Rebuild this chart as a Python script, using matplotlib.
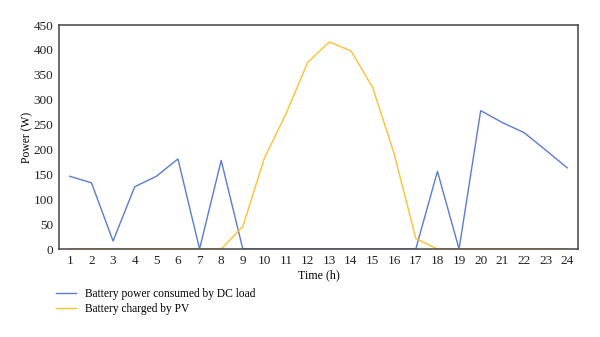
import matplotlib.pyplot as plt

hours = list(range(1, 25))
dc_load = [146, 133, 16, 125, 146, 181, 0, 178, 0, 0, 0, 0, 0, 0, 0, 0,
           0, 156, 0, 278, 254, 234, 199, 163]
pv_charge = [0, 0, 0, 0, 0, 0, 0, 0, 45, 183, 272, 375, 416, 398, 325, 191,
             21, 0, 0, 0, 0, 0, 0, 0]
y_ticks = list(range(0, 451, 50))

plt.rcParams['font.family'] = ['Liberation Serif', 'DejaVu Serif']

fig = plt.figure(figsize=(6, 3.37), dpi=100)
ax = fig.add_axes([59 / 600, 1 - 249 / 337, 519 / 600, 224 / 337])

ax.plot(hours, dc_load, color='#5b7bd6', lw=1.0,
        label='Battery power consumed by DC load')
ax.plot(hours, pv_charge, color='#ffc12e', lw=1.0,
        label='Battery charged by PV')

ax.set_xlim(0.5, 24.5)
ax.set_ylim(0, 450)
ax.set_xticks(hours)
ax.set_yticks(y_ticks)
ax.tick_params(length=0, labelsize=9.5, colors='#222222')
ax.tick_params(axis='x', pad=4)
ax.tick_params(axis='y', pad=4)
for side in ax.spines.values():
    side.set_color('#444444')
    side.set_linewidth(1.1)

ax.set_xlabel('Time (h)', fontsize=8.6, labelpad=2)
ax.set_ylabel('Power (W)', fontsize=8.4, labelpad=0)

ax.legend(loc='upper left', bbox_to_anchor=(-0.025, -0.13), frameon=False,
          fontsize=8.3, handlelength=1.7, handletextpad=0.8, labelspacing=0.22)

fig.savefig('out.png', dpi=100)
